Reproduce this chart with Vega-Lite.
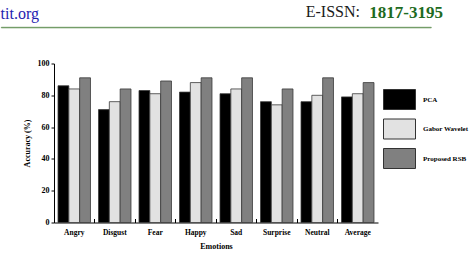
{
  "$schema": "https://vega.github.io/schema/vega-lite/v6.json",
  "background": "white",
  "padding": {"left": 0, "top": 3, "right": 0, "bottom": 0},
  "config": {
    "view": {"stroke": null},
    "font": "Liberation Serif",
    "title": {"font": "Liberation Serif", "fontSize": 16, "fontWeight": "normal", "baseline": "alphabetic"}
  },
  "title": {"text": "tit.org", "anchor": "start", "frame": "bounds", "color": "#1f23b0", "offset": 0, "dy": 18},
  "bounds": "flush",
  "center": true,
  "spacing": 35.5,
  "vconcat": [
    {
      "width": 430,
      "height": 0.5,
      "view": {"stroke": "#5b8a4b", "strokeWidth": 0.8},
      "title": {
        "text": "1817-3195",
        "anchor": "end",
        "frame": "group",
        "offset": 5,
        "dx": 12,
        "color": "#1e6b22",
        "fontSize": 17,
        "fontWeight": "bold"
      },
      "data": {"values": []},
      "mark": "point"
    },
    {
      "width": 324,
      "height": 159,
      "title": {
        "text": "E-ISSN:",
        "anchor": "end",
        "frame": "group",
        "offset": 0,
        "dx": -18,
        "dy": -40,
        "color": "#1a1a1a"
      },
      "data": {
        "values": [
          {"emotion": "Angry", "method": "PCA", "accuracy": 86},
          {"emotion": "Angry", "method": "Gabor Wavelet", "accuracy": 84},
          {"emotion": "Angry", "method": "Proposed RSB", "accuracy": 91},
          {"emotion": "Disgust", "method": "PCA", "accuracy": 71},
          {"emotion": "Disgust", "method": "Gabor Wavelet", "accuracy": 76},
          {"emotion": "Disgust", "method": "Proposed RSB", "accuracy": 84},
          {"emotion": "Fear", "method": "PCA", "accuracy": 83},
          {"emotion": "Fear", "method": "Gabor Wavelet", "accuracy": 81},
          {"emotion": "Fear", "method": "Proposed RSB", "accuracy": 89},
          {"emotion": "Happy", "method": "PCA", "accuracy": 82},
          {"emotion": "Happy", "method": "Gabor Wavelet", "accuracy": 88},
          {"emotion": "Happy", "method": "Proposed RSB", "accuracy": 91},
          {"emotion": "Sad", "method": "PCA", "accuracy": 81},
          {"emotion": "Sad", "method": "Gabor Wavelet", "accuracy": 84},
          {"emotion": "Sad", "method": "Proposed RSB", "accuracy": 91},
          {"emotion": "Surprise", "method": "PCA", "accuracy": 76},
          {"emotion": "Surprise", "method": "Gabor Wavelet", "accuracy": 74},
          {"emotion": "Surprise", "method": "Proposed RSB", "accuracy": 84},
          {"emotion": "Neutral", "method": "PCA", "accuracy": 76},
          {"emotion": "Neutral", "method": "Gabor Wavelet", "accuracy": 80},
          {"emotion": "Neutral", "method": "Proposed RSB", "accuracy": 91},
          {"emotion": "Average", "method": "PCA", "accuracy": 79},
          {"emotion": "Average", "method": "Gabor Wavelet", "accuracy": 81},
          {"emotion": "Average", "method": "Proposed RSB", "accuracy": 88}
        ]
      },
      "mark": {"type": "bar", "stroke": "#3a3a3a", "strokeWidth": 0.8},
      "encoding": {
        "x": {
          "field": "emotion",
          "type": "nominal",
          "sort": ["Angry", "Disgust", "Fear", "Happy", "Sad", "Surprise", "Neutral", "Average"],
          "scale": {"paddingInner": 0, "paddingOuter": 0},
          "axis": {
            "title": "Emotions",
            "titleFont": "Liberation Serif",
            "titleFontSize": 8,
            "titleFontWeight": "bold",
            "titleColor": "#000",
            "titlePadding": 6,
            "labelAngle": 0,
            "labelFont": "Liberation Serif",
            "labelFontSize": 7.5,
            "labelFontWeight": "bold",
            "labelColor": "#000",
            "labelPadding": 10,
            "bandPosition": 0,
            "ticks": true,
            "tickSize": -4,
            "tickColor": "#000",
            "domainColor": "#000",
            "grid": false
          }
        },
        "xOffset": {
          "field": "method",
          "type": "nominal",
          "sort": ["PCA", "Gabor Wavelet", "Proposed RSB"],
          "scale": {"paddingInner": 0, "paddingOuter": 0.37}
        },
        "y": {
          "field": "accuracy",
          "type": "quantitative",
          "scale": {"domain": [0, 100], "nice": false},
          "axis": {
            "title": "Accuracy (%)",
            "titleFont": "Liberation Serif",
            "titleFontSize": 8,
            "titleFontWeight": "bold",
            "titleColor": "#000",
            "titlePadding": 6,
            "values": [0, 20, 40, 60, 80, 100],
            "labelFont": "Liberation Serif",
            "labelFontSize": 8,
            "labelFontWeight": "bold",
            "labelColor": "#000",
            "labelPadding": 2,
            "tickSize": 3,
            "tickColor": "#000",
            "domainColor": "#000",
            "grid": false
          }
        },
        "color": {
          "field": "method",
          "type": "nominal",
          "scale": {
            "domain": ["PCA", "Gabor Wavelet", "Proposed RSB"],
            "range": ["#000000", "#e2e2e2", "#808080"]
          },
          "legend": {
            "title": null,
            "orient": "none",
            "legendX": 388,
            "legendY": 62,
            "padding": 0,
            "symbolType": "M-1.6,-1H1.6V1H-1.6Z",
            "symbolSize": 400,
            "symbolStrokeColor": "#333333",
            "symbolStrokeWidth": 1,
            "symbolOpacity": 1,
            "rowPadding": 4.5,
            "labelOffset": 13,
            "labelFont": "Liberation Serif",
            "labelFontSize": 7,
            "labelFontWeight": "bold",
            "labelColor": "#000"
          }
        }
      }
    }
  ]
}
